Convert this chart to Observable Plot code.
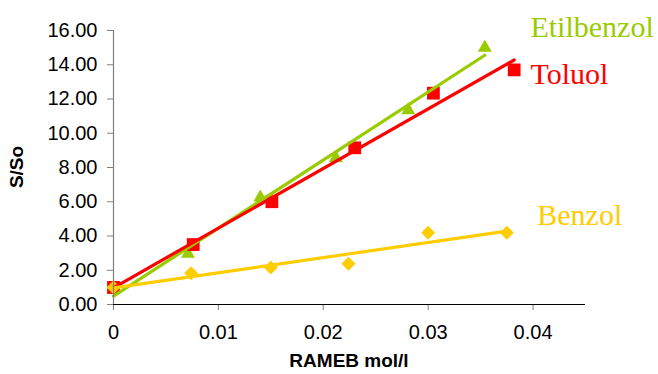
<!DOCTYPE html>
<html>
<head>
<meta charset="utf-8">
<script src="https://cdn.jsdelivr.net/npm/d3@7"></script>
<script src="https://cdn.jsdelivr.net/npm/@observablehq/plot@0.6"></script>
<style>
  html, body { margin: 0; padding: 0; background: #fff; }
  #chart { width: 658px; height: 374px; }
</style>
</head>
<body>
<div id="chart"></div>
<script>
const series = ["Benzol", "Toluol", "Etilbenzol"];
const benzolX = [0, 0.0074, 0.015, 0.0224, 0.030, 0.0375];
const benzolY = [1.0, 1.83, 2.16, 2.38, 4.19, 4.19];
const toluolX = [0, 0.0076, 0.0151, 0.023, 0.0305, 0.0382];
const toluolY = [1.0, 3.5, 6.0, 9.15, 12.34, 13.7];
const etilX = [0, 0.0071, 0.014, 0.0212, 0.0281, 0.0354];
const etilY = [0.85, 2.96, 6.25, 8.55, 11.35, 15.0];
const yTicks = [0, 2, 4, 6, 8, 10, 12, 14, 16];
const xTicks = [0, 0.01, 0.02, 0.03, 0.04];

const colors = {Benzol: "#FFCC00", Toluol: "#FF0000", Etilbenzol: "#99CC00"};
const symbols = {Benzol: "diamond2", Toluol: "square", Etilbenzol: "triangle"};
const radius = {Benzol: 6.3, Toluol: 7.2, Etilbenzol: 5.2};

const toRows = (name, xs, ys) => xs.map((x, i) => ({series: name, x, y: ys[i]}));
const rows = {
  Benzol: toRows("Benzol", benzolX, benzolY),
  Toluol: toRows("Toluol", toluolX, toluolY),
  Etilbenzol: toRows("Etilbenzol", etilX, etilY)
};
// label anchors in data units
const labels = [
  {series: "Etilbenzol", x: 0.03975, y: 16.17},
  {series: "Toluol", x: 0.03975, y: 13.43},
  {series: "Benzol", x: 0.0404, y: 5.2}
];

const marks = [];
// markers first (lines drawn over them)
for (const s of ["Etilbenzol", "Toluol", "Benzol"]) {
  marks.push(Plot.dot(rows[s], {x: "x", y: "y", symbol: () => symbols[s], fill: colors[s], stroke: "none", r: radius[s]}));
}
// trendlines
for (const s of ["Etilbenzol", "Toluol", "Benzol"]) {
  marks.push(Plot.linearRegressionY(rows[s], {x: "x", y: "y", stroke: colors[s], strokeWidth: 3.2, ci: 0}));
}
marks.push(Plot.text(labels, {x: "x", y: "y", text: "series", fill: d => colors[d.series], textAnchor: "start",
  fontFamily: "'Liberation Serif', 'Times New Roman', serif", fontSize: 30, lineAnchor: "middle"}));
// axes
marks.push(Plot.axisY({ticks: yTicks, tickFormat: d3.format(".2f"), tickSize: 6, tickPadding: 10, label: null,
  stroke: "#808080", fill: "#000"}));
marks.push(Plot.ruleX([0], {stroke: "#808080", strokeWidth: 1.2}));
marks.push(Plot.axisX({ticks: xTicks, tickFormat: d => d === 0 ? "0" : String(d), tickSize: 6, tickPadding: 14, label: null,
  stroke: "#808080", fill: "#000"}));
marks.push(Plot.ruleY([0], {stroke: "#000", strokeWidth: 1.2}));

const chart = Plot.plot({
  width: 658,
  height: 374,
  marginLeft: 113,
  marginRight: 73,
  marginTop: 30,
  marginBottom: 70,
  x: {domain: [0, 0.045]},
  y: {domain: [0, 16]},
  style: {fontFamily: "'Liberation Sans', Arial, sans-serif", fontSize: "20px", color: "#000", background: "#fff", overflow: "visible"},
  marks
});

const svg = d3.select(chart);
svg.append("text")
  .attr("x", 349).attr("y", 362)
  .attr("text-anchor", "middle").attr("dominant-baseline", "middle")
  .attr("font-family", "'Liberation Sans', Arial, sans-serif")
  .attr("font-weight", "bold").attr("font-size", 19)
  .text("RAMEB mol/l");
svg.append("text")
  .attr("transform", "translate(18,167) rotate(-90)")
  .attr("text-anchor", "middle").attr("dominant-baseline", "middle")
  .attr("font-family", "'Liberation Sans', Arial, sans-serif")
  .attr("font-weight", "bold").attr("font-size", 19)
  .text("S/So");

document.getElementById("chart").appendChild(chart);
</script>
</body>
</html>
